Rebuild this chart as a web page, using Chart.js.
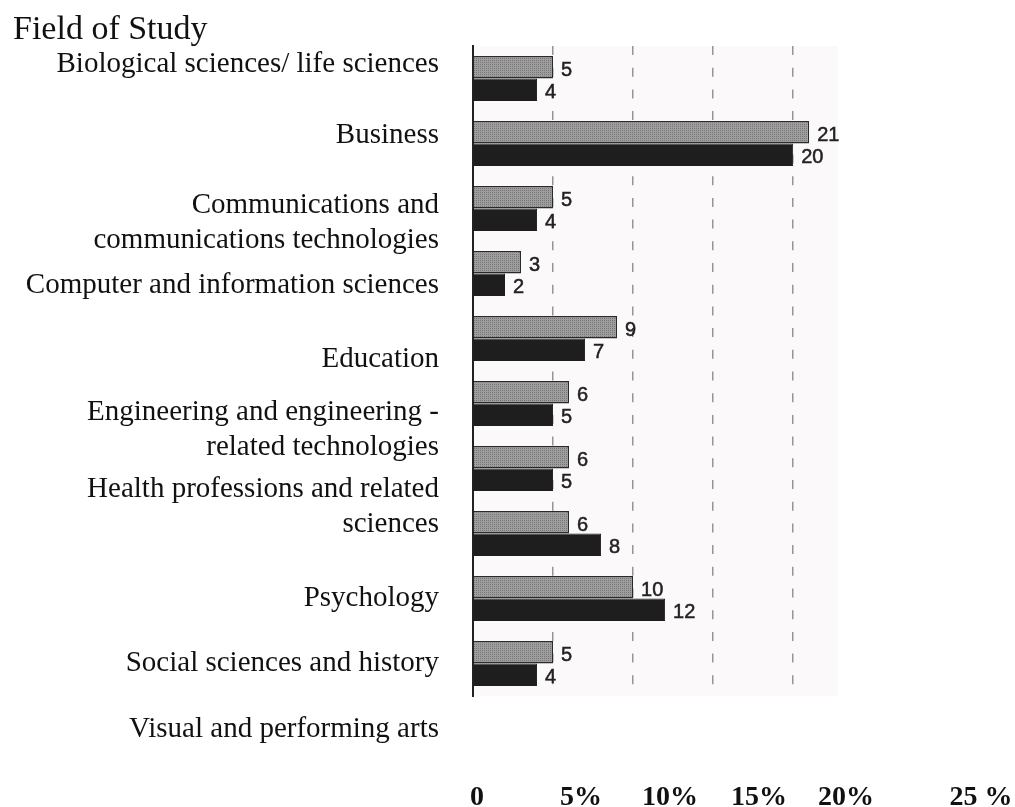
<!DOCTYPE html>
<html>
<head>
<meta charset="utf-8">
<title>Field of Study</title>
<script src="https://cdn.jsdelivr.net/npm/chart.js@4"></script>
<style>
  body { margin: 0; background: #fff; }
  #wrap {
    position: relative; width: 1015px; height: 807px; overflow: hidden;
    font-family: "Liberation Serif", "Times New Roman", serif; color: #111;
  }
  #chart { position: absolute; left: 0; top: 0; }
  .title { position: absolute; left: 13px; top: 11px; font-size: 34px; line-height: 34px; white-space: nowrap; }
  .field { position: absolute; right: 576px; text-align: right; font-size: 29px; line-height: 35px; white-space: nowrap; }
  .xtick { position: absolute; top: 782px; font-size: 28px; line-height: 28px; font-weight: bold; white-space: nowrap; transform: translateX(-50%); }
</style>
</head>
<body>
<div id="wrap">
  <canvas id="chart" width="1015" height="807"></canvas>
  <div class="title">Field of Study</div>
</div>
<script>
// fields, one row of paired bars each
const fields = [
  'Biological sciences/ life sciences',
  'Business',
  ['Communications and', 'communications technologies'],
  'Computer and information sciences',
  'Education',
  ['Engineering and engineering -', 'related technologies'],
  ['Health professions and related', 'sciences'],
  'Psychology',
  'Social sciences and history',
  'Visual and performing arts'
];
const grayValues = [5, 21, 5, 3, 9, 6, 6, 6, 10, 5];
const blackValues = [4, 20, 4, 2, 7, 5, 5, 8, 12, 4];
const xTickLabels = ['0', '5%', '10%', '15%', '20%', '25 %'];

// where the side labels and bottom labels sit (baseline of first line / centre x)
const fieldBaselines = [72, 143, 213, 293, 367, 420, 497, 606, 671, 737];
const xTickCenters = [477, 581, 670, 759, 846, 981];

const wrap = document.getElementById('wrap');

fields.forEach((name, i) => {
  const el = document.createElement('div');
  el.className = 'field';
  el.innerHTML = [].concat(name).join('<br>');
  el.style.top = (fieldBaselines[i] - 27) + 'px';
  wrap.appendChild(el);
});

xTickLabels.forEach((txt, i) => {
  const el = document.createElement('div');
  el.className = 'xtick';
  el.textContent = txt;
  el.style.left = xTickCenters[i] + 'px';
  wrap.appendChild(el);
});

// fine dot screen for the light bars
function stipple() {
  const c = document.createElement('canvas');
  c.width = 2; c.height = 2;
  const g = c.getContext('2d');
  g.fillStyle = '#9e9e9e';
  g.fillRect(0, 0, 2, 2);
  g.fillStyle = '#767676';
  g.fillRect(0, 0, 1, 1);
  return g.createPattern(c, 'repeat');
}

const plotBackground = {
  id: 'plotBackground',
  beforeDraw(chart) {
    const {ctx, chartArea: a} = chart;
    ctx.save();
    ctx.fillStyle = '#fcf9fb';
    ctx.fillRect(a.left, a.top, a.right - a.left, a.bottom - a.top);
    ctx.restore();
  }
};

// value printed just past the end of every bar
const barValueLabels = {
  id: 'barValueLabels',
  afterDatasetsDraw(chart) {
    const ctx = chart.ctx;
    ctx.save();
    ctx.font = '20px "Liberation Sans", Arial, sans-serif';
    ctx.fillStyle = '#222';
    ctx.strokeStyle = '#222';
    ctx.lineWidth = 0.5;
    ctx.textBaseline = 'middle';
    chart.data.datasets.forEach((ds, i) => {
      chart.getDatasetMeta(i).data.forEach((bar, j) => {
        const txt = String(ds.data[j]);
        ctx.fillText(txt, bar.x + 8, bar.y + 3);
        ctx.strokeText(txt, bar.x + 8, bar.y + 3);
      });
    });
    ctx.restore();
  }
};

new Chart(document.getElementById('chart'), {
  type: 'bar',
  data: {
    labels: fields,
    datasets: [
      {
        data: grayValues,
        backgroundColor: stipple(),
        borderColor: '#2a2a2a',
        borderWidth: 1.5
      },
      {
        data: blackValues,
        backgroundColor: '#1e1e1e',
        borderColor: '#1e1e1e',
        borderWidth: 1
      }
    ]
  },
  options: {
    indexAxis: 'y',
    responsive: false,
    animation: false,
    layout: { padding: { left: 473, right: 177, top: 46, bottom: 111 } },
    datasets: { bar: { categoryPercentage: 0.69, barPercentage: 1.0 } },
    scales: {
      x: {
        min: 0,
        max: 22.8,
        ticks: { display: false, stepSize: 5, includeBounds: false },
        grid: {
          drawTicks: false,
          lineWidth: 1.5,
          color: c => (c.tick && c.tick.value > 0 && c.tick.value % 5 === 0) ? '#959595' : 'rgba(0,0,0,0)'
        },
        border: { display: false, dash: [9, 12.7] }
      },
      y: {
        ticks: { display: false },
        grid: { display: false, drawTicks: false },
        border: { display: true, color: '#222', width: 2 }
      }
    },
    plugins: {
      legend: { display: false },
      tooltip: { enabled: false }
    }
  },
  plugins: [plotBackground, barValueLabels]
});
</script>
</body>
</html>
